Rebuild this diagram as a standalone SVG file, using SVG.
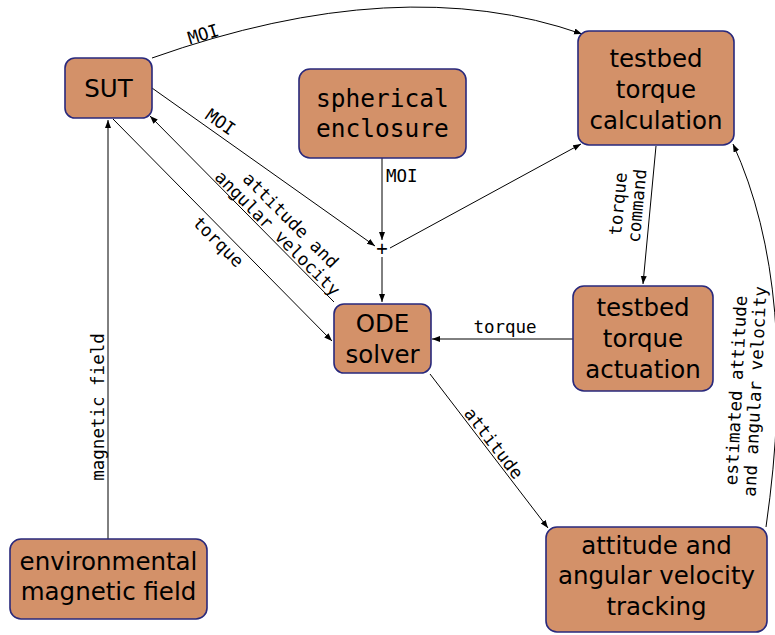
<svg xmlns="http://www.w3.org/2000/svg" width="775" height="635" viewBox="0 0 775 635">
<style>
.box{fill:#d39169;stroke:#29297c;stroke-width:1.6}
.t{font-family:"DejaVu Sans",sans-serif;font-size:24.5px;fill:#000;text-anchor:middle}
.m{font-family:"DejaVu Sans Mono",monospace;font-size:24.5px;fill:#000;text-anchor:middle}
.l{font-family:"DejaVu Sans Mono",monospace;font-size:17.5px;fill:#000;text-anchor:middle}
.c{fill:none;stroke:#000;stroke-width:1}
</style>
<defs>
<marker id="a" markerUnits="userSpaceOnUse" markerWidth="9" markerHeight="7" refX="8" refY="3" orient="auto">
<path d="M0,0 L8,3 L0,6 z" fill="#000"/>
</marker>
</defs>
<rect width="775" height="635" fill="#fff"/>
<g id="connectors">
<path class="c" d="M152,58 Q400,-30 582,34" marker-end="url(#a)"/>
<line class="c" x1="152" y1="88" x2="375" y2="246" marker-end="url(#a)"/>
<line class="c" x1="382" y1="158" x2="382" y2="240" marker-end="url(#a)"/>
<line class="c" x1="382" y1="257" x2="382" y2="302" marker-end="url(#a)"/>
<line class="c" x1="390" y1="248" x2="581" y2="144" marker-end="url(#a)"/>
<line class="c" x1="113" y1="119" x2="332" y2="341" marker-end="url(#a)"/>
<line class="c" x1="334" y1="302" x2="150" y2="116" marker-end="url(#a)"/>
<line class="c" x1="108" y1="539" x2="108" y2="120" marker-end="url(#a)"/>
<line class="c" x1="573" y1="339" x2="432" y2="339" marker-end="url(#a)"/>
<line class="c" x1="656" y1="146" x2="643" y2="284" marker-end="url(#a)"/>
<line class="c" x1="430" y1="374" x2="548" y2="528" marker-end="url(#a)"/>
<path class="c" d="M766,527 Q800,290 733,144" marker-end="url(#a)"/>
<text class="l" transform="translate(205,40) rotate(-17)">MOI</text>
<text class="l" transform="translate(217,127) rotate(35)">MOI</text>
<text class="l" x="386" y="182" style="text-anchor:start">MOI</text>
<text class="l" transform="translate(214,246) rotate(45)">torque</text>
<text class="l" transform="translate(284,227) rotate(45)"><tspan x="0" y="-3.5">attitude and</tspan><tspan x="0" y="15">angular velocity</tspan></text>
<text class="l" transform="translate(104,407) rotate(-90)">magnetic field</text>
<text class="l" x="505" y="333">torque</text>
<text class="l" transform="translate(630,205) rotate(-84.6)"><tspan x="0" y="-6">torque</tspan><tspan x="0" y="13">command</tspan></text>
<text class="l" transform="translate(489,447) rotate(52.5)">attitude</text>
<text class="l" transform="translate(748,391) rotate(-87)"><tspan x="0" y="-6">estimated attitude</tspan><tspan x="0" y="13">and angular velocity</tspan></text>
<text class="l" x="382" y="255" style="font-size:19px">+</text>
</g>
<g id="SUT">
<rect class="box" x="65" y="58" width="87" height="60" rx="10"/>
<text class="t" x="108.5" y="97">SUT</text>
</g>
<g id="spherical-enclosure">
<rect class="box" x="299" y="69" width="167" height="89" rx="11"/>
<text class="m" x="382.5" y="107">spherical</text>
<text class="m" x="382.5" y="137">enclosure</text>
</g>
<g id="testbed-torque-calculation">
<rect class="box" x="578" y="31" width="156" height="114" rx="11"/>
<text class="t" x="656" y="67">testbed</text>
<text class="t" x="656" y="98">torque</text>
<text class="t" x="656" y="128.5">calculation</text>
</g>
<g id="ODE-solver">
<rect class="box" x="334" y="304" width="97" height="69" rx="10"/>
<text class="t" x="382.5" y="332">ODE</text>
<text class="t" x="382.5" y="363">solver</text>
</g>
<g id="testbed-torque-actuation">
<rect class="box" x="573" y="286" width="140" height="105" rx="11"/>
<text class="t" x="643" y="316">testbed</text>
<text class="t" x="643" y="347">torque</text>
<text class="t" x="643" y="378">actuation</text>
</g>
<g id="attitude-tracking">
<rect class="box" x="546" y="527" width="221" height="105" rx="11"/>
<text class="t" x="656.5" y="554">attitude and</text>
<text class="t" x="656.5" y="584">angular velocity</text>
<text class="t" x="656.5" y="615">tracking</text>
</g>
<g id="environmental-magnetic-field">
<rect class="box" x="10" y="539" width="197" height="80" rx="11"/>
<text class="t" x="108.5" y="570">environmental</text>
<text class="t" x="108.5" y="600">magnetic field</text>
</g>
</svg>
